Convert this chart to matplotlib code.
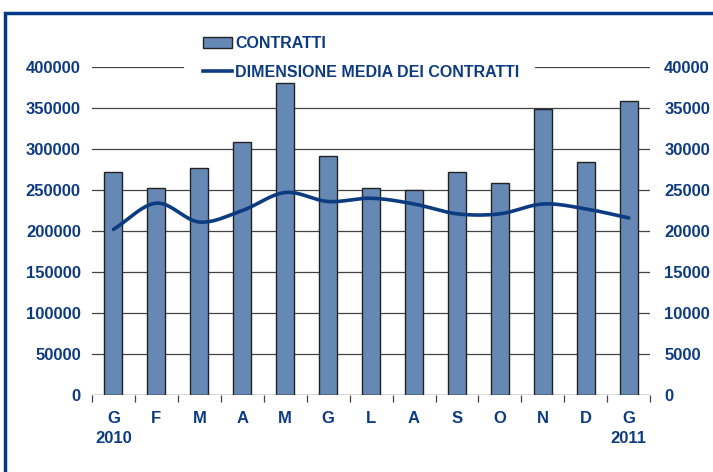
import numpy as np
import matplotlib
matplotlib.use("Agg")
from matplotlib import pyplot as plt
from matplotlib.patches import Rectangle
from matplotlib.lines import Line2D

mesi = ['G', 'F', 'M', 'A', 'M', 'G', 'L', 'A', 'S', 'O', 'N', 'D', 'G']
anni = ['2010', '', '', '', '', '', '', '', '', '', '', '', '2011']
contratti = [272000, 252000, 277000, 309000, 380000, 291000, 252000,
             250000, 272000, 259000, 349000, 284000, 358000]
dimensione_media = [20200, 23400, 21100, 22500, 24700, 23600, 24000,
                    23300, 22100, 22100, 23300, 22700, 21600]

blu = '#0d3b80'
plt.rcParams['font.family'] = ['Liberation Sans', 'DejaVu Sans']


def smooth(x, y, n=20):
    # catmull-rom spline, only to draw the line smoothed like the original
    x = np.asarray(x, float)
    y = np.asarray(y, float)
    px = np.concatenate([[2 * x[0] - x[1]], x, [2 * x[-1] - x[-2]]])
    py = np.concatenate([[2 * y[0] - y[1]], y, [2 * y[-1] - y[-2]]])
    xs, ys = [], []
    t = np.linspace(0, 1, n, endpoint=False)
    for i in range(1, len(px) - 2):
        for p, out in ((px, xs), (py, ys)):
            p0, p1, p2, p3 = p[i - 1], p[i], p[i + 1], p[i + 2]
            out.extend(0.5 * (2 * p1 + (-p0 + p2) * t
                              + (2 * p0 - 5 * p1 + 4 * p2 - p3) * t ** 2
                              + (-p0 + 3 * p1 - 3 * p2 + p3) * t ** 3))
    xs.append(x[-1])
    ys.append(y[-1])
    return np.array(xs), np.array(ys)


fig = plt.figure(figsize=(7.13, 4.72), dpi=100)
ax = fig.add_axes([0.129, 0.163, 0.783, 0.695])
ax2 = ax.twinx()

x = np.arange(len(mesi))
ax.bar(x, contratti, width=0.42, color='#6688b5', edgecolor='#222222',
       linewidth=1.0, zorder=3)
ax.set_ylim(0, 400000)
ax.set_xlim(-0.5, len(mesi) - 0.5)
ax.set_yticks(np.arange(0, 400001, 50000))
for v in np.arange(50000, 400000, 50000):
    ax.axhline(v, color='#444444', linewidth=0.9, zorder=1)
# top gridline is interrupted by the legend
ax.axhline(400000, xmin=0, xmax=0.163, color='#444444', linewidth=0.9, zorder=1)
ax.axhline(400000, xmin=0.794, xmax=1, color='#444444', linewidth=0.9, zorder=1)

sx, sy = smooth(x, dimensione_media)
ax2.plot(sx, sy, color=blu, linewidth=2.6, solid_capstyle='round', zorder=4)
ax2.set_ylim(0, 40000)
ax2.set_yticks(np.arange(0, 40001, 5000))

for a in (ax, ax2):
    for s in ('top', 'left', 'right', 'bottom'):
        a.spines[s].set_visible(False)
    a.tick_params(axis='y', length=0, labelcolor=blu, labelsize=12)
ax.tick_params(axis='y', pad=8)
ax2.tick_params(axis='y', pad=10)
for lab in ax.get_yticklabels() + ax2.get_yticklabels():
    lab.set_fontweight('bold')

ax.axhline(0, color='#444444', linewidth=1.0, zorder=5)
ax.set_xticks(np.arange(-0.5, len(mesi), 1.0))
ax.set_xticklabels([])
ax.tick_params(axis='x', length=5, color='#444444', width=0.9, direction='out')
for i in range(len(mesi)):
    ax.text(i, -0.07, mesi[i], transform=ax.get_xaxis_transform(),
            ha='center', va='center', color=blu, fontsize=12, fontweight='bold')
    if anni[i]:
        ax.text(i, -0.133, anni[i], transform=ax.get_xaxis_transform(),
                ha='center', va='center', color=blu, fontsize=12, fontweight='bold')
ax2.set_zorder(ax.get_zorder() + 1)
ax2.patch.set_visible(False)

handles = [Rectangle((0, 0), 1, 1, facecolor='#6688b5', edgecolor='#222222', linewidth=1.0),
           Line2D([0], [0], color=blu, linewidth=2.6)]
leg = fig.legend(handles, ['CONTRATTI', 'DIMENSIONE MEDIA DEI CONTRATTI'],
                 loc='upper left', bbox_to_anchor=(0.274, 0.94), frameon=False,
                 handlelength=1.8, handletextpad=0.2, labelspacing=0.85,
                 borderpad=0.0, prop={'weight': 'bold', 'size': 11.5})
for t in leg.get_texts():
    t.set_color(blu)

fig.patches.append(Rectangle((5 / 713, -0.1), 1.1, 1 - 13 / 472 + 0.1,
                             transform=fig.transFigure, fill=False,
                             edgecolor='#003a85', linewidth=2.5, zorder=10))

fig.savefig('out.png', dpi=100)
